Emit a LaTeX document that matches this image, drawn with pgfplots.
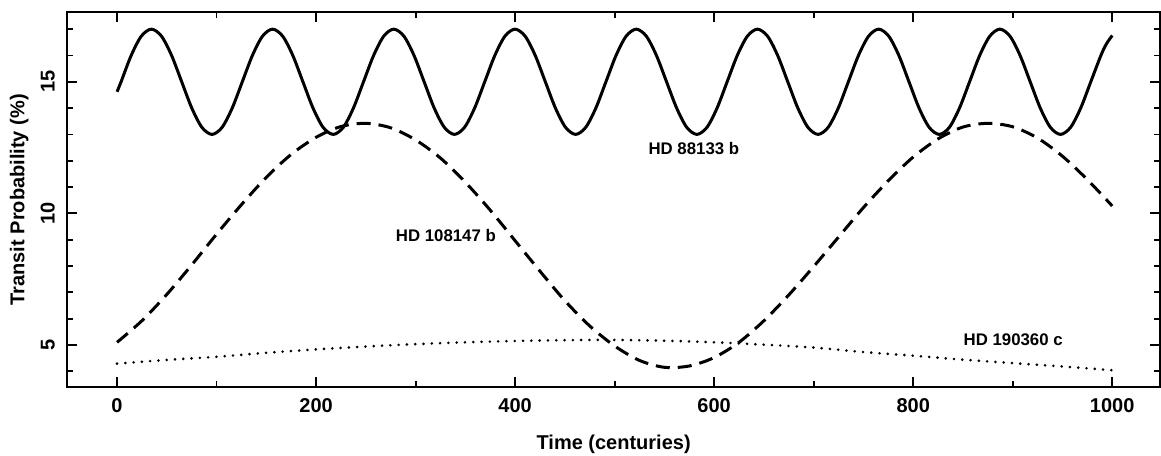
\documentclass[border=0pt]{standalone}
\usepackage{fontspec}
\setmainfont{Liberation Sans}
\usepackage{pgfplots}
\pgfplotsset{compat=1.18}

% transit probability curves
\begin{document}
\begin{tikzpicture}
\begin{axis}[
    at={(0,0)}, anchor=south west,
    scale only axis, width=546.35pt, height=187.5pt,
    xmin=-50, xmax=1048, ymin=3.39, ymax=17.64,
    xtick={0,200,...,1000}, minor xtick={100,300,...,900},
    ytick={5,10,15}, minor ytick={4,6,7,8,9,11,12,13,14,16,17},
    tick align=inside,
    major tick length=5pt, minor tick length=3pt,
    axis line style={line width=0.9pt},
    every tick/.style={black, line width=0.9pt},
    /pgf/number format/1000 sep={},
    /pgf/number format/assume math mode=true,
    tick label style={font=\bfseries\fontsize{10}{11}\selectfont, inner sep=0pt},
    xticklabel style={anchor=north}, xticklabel shift=5.3pt,
    yticklabel style={rotate=90, anchor=south}, yticklabel shift=6pt,
    label style={font=\bfseries\fontsize{10}{11}\selectfont, inner sep=0pt},
    xlabel={Time (centuries)},
    xlabel style={at={([yshift=-31.3pt]rel axis cs:0.5,0)}, anchor=base},
    ylabel={Transit Probability (\%)},
    ylabel style={at={([xshift=-21.5pt]rel axis cs:0,0.5)}, anchor=base},
]
% HD 88133 b
\addplot[black, line width=1.5pt, smooth] coordinates {
(0,14.62) (4.05,15) (14.2,16) (24.35,16.732)
(34.5,17) (44.65,16.732) (54.8,16) (64.95,15) (75.1,14) (85.25,13.268) (95.4,13) (105.55,13.268) (115.7,14) (125.85,15) (136.0,16) (146.15,16.732)
(156.3,17) (166.45,16.732) (176.6,16) (186.75,15) (196.9,14) (207.05,13.268) (217.2,13) (227.35,13.268) (237.5,14) (247.65,15) (257.8,16) (267.95,16.732)
(278.1,17) (288.25,16.732) (298.4,16) (308.55,15) (318.7,14) (328.85,13.268) (339.0,13) (349.15,13.268) (359.3,14) (369.45,15) (379.6,16) (389.75,16.732)
(399.9,17) (410.05,16.732) (420.2,16) (430.35,15) (440.5,14) (450.65,13.268) (460.8,13) (470.95,13.268) (481.1,14) (491.25,15) (501.4,16) (511.55,16.732)
(521.7,17) (531.85,16.732) (542.0,16) (552.15,15) (562.3,14) (572.45,13.268) (582.6,13) (592.75,13.268) (602.9,14) (613.05,15) (623.2,16) (633.35,16.732)
(643.5,17) (653.65,16.732) (663.8,16) (673.95,15) (684.1,14) (694.25,13.268) (704.4,13) (714.55,13.268) (724.7,14) (734.85,15) (745.0,16) (755.15,16.732)
(765.3,17) (775.45,16.732) (785.6,16) (795.75,15) (805.9,14) (816.05,13.268) (826.2,13) (836.35,13.268) (846.5,14) (856.65,15) (866.8,16) (876.95,16.732)
(887.1,17) (897.25,16.732) (907.4,16) (917.55,15) (927.7,14) (937.85,13.268) (948.0,13) (958.15,13.268) (968.3,14) (978.45,15) (988.6,16) (994.0,16.43) (1000,16.76)
};
% HD 108147 b
\addplot[black, line width=1.5pt, smooth, dash pattern=on 7pt off 4pt] coordinates {
(0,5.10) (25,5.92) (50,6.92) (75,8.04) (100,9.21) (125,10.33) (150,11.37) (175,12.24)
(200,12.89) (225,13.30) (250,13.42) (275,13.25) (300,12.79) (325,12.10) (350,11.18)
(375,10.12) (400,8.96) (425,7.80) (450,6.68) (475,5.72) (500,4.96) (525,4.41)
(550,4.15) (575,4.20) (600,4.52) (625,5.10) (650,5.92) (675,6.90) (700,7.98)
(725,9.10) (750,10.22) (775,11.24) (800,12.14) (825,12.83) (850,13.28) (875,13.42)
(900,13.29) (925,12.86) (950,12.17) (975,11.28) (1000,10.28)
};
% HD 190360 c
\addplot[black, line width=1.45pt, smooth, line cap=round, dash pattern=on 0pt off 4.15pt] coordinates {
(0,4.29) (50,4.43) (100,4.55) (150,4.70) (200,4.83) (250,4.94) (300,5.03)
(350,5.10) (400,5.15) (450,5.18) (500,5.19) (550,5.16) (600,5.10) (650,5.01)
(700,4.90) (750,4.73) (800,4.59) (850,4.44) (900,4.31) (950,4.18) (1000,4.04)
};
\node[font=\bfseries\fontsize{8.4}{9}\selectfont] at (axis cs:579.6,12.47) {HD 88133 b};
\node[font=\bfseries\fontsize{8.4}{9}\selectfont] at (axis cs:330.4,9.16) {HD 108147 b};
\node[font=\bfseries\fontsize{8.4}{9}\selectfont] at (axis cs:900.5,5.18) {HD 190360 c};
\end{axis}
\pgfresetboundingbox
\path[use as bounding box] (-33.65pt,-33.85pt) rectangle (546.85pt,193.65pt);
\end{tikzpicture}
\end{document}
